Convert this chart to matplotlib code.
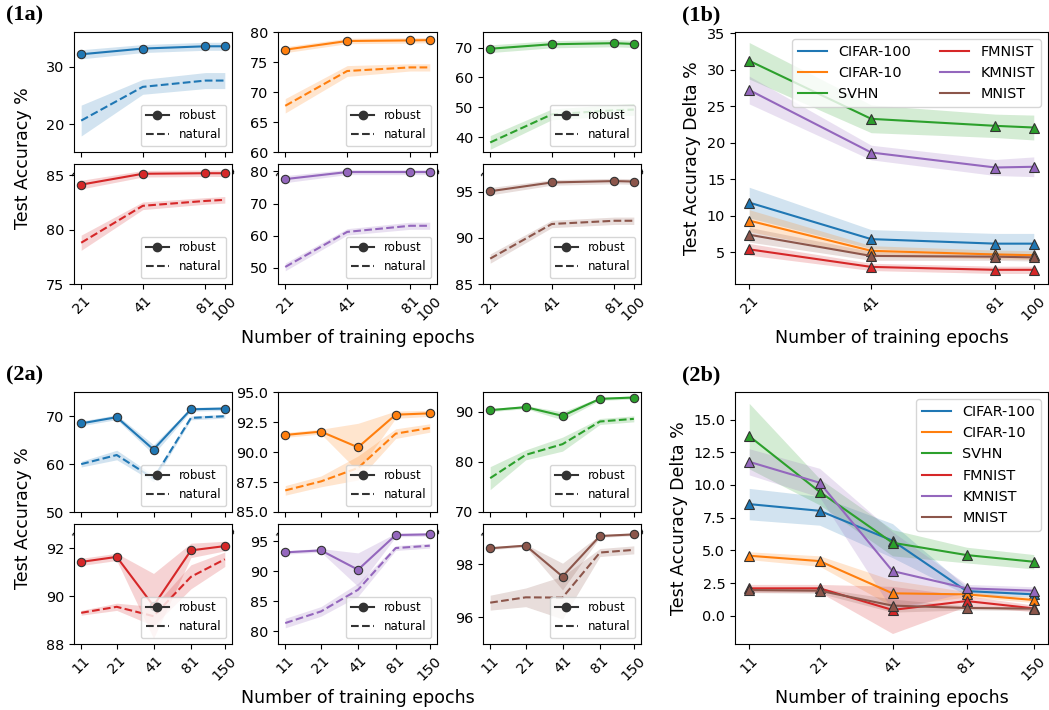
import numpy as np
import matplotlib
matplotlib.use('Agg')
import matplotlib.pyplot as plt
from matplotlib.lines import Line2D

names = ['CIFAR-100', 'CIFAR-10', 'SVHN', 'FMNIST', 'KMNIST', 'MNIST']
colors = ['tab:blue', 'tab:orange', 'tab:green', 'tab:red', 'tab:purple', 'tab:brown']

# ---- experiment 1 ----
epochs1 = [21, 41, 81, 100]
rob1 = [[32.2, 33.2, 33.6, 33.6],
        [77.05, 78.5, 78.6, 78.65],
        [69.6, 71.1, 71.45, 71.2],
        [84.15, 85.15, 85.2, 85.2],
        [77.6, 79.8, 79.8, 79.8],
        [95.05, 96.0, 96.15, 96.1]]
rob1_sd = [[0.8, 0.7, 0.7, 0.7],
           [0.5, 0.45, 0.45, 0.45],
           [1.3, 1.2, 1.2, 1.2],
           [0.4, 0.3, 0.3, 0.3],
           [1.1, 0.8, 0.8, 0.8],
           [0.4, 0.3, 0.3, 0.3]]
nat1 = [[20.6, 26.5, 27.6, 27.6],
        [67.7, 73.5, 74.1, 74.1],
        [38.2, 47.6, 49.0, 49.2],
        [78.8, 82.2, 82.65, 82.75],
        [50.3, 61.2, 63.1, 63.1],
        [87.75, 91.5, 91.85, 91.85]]
nat1_sd = [[2.7, 1.3, 1.4, 1.4],
           [1.2, 0.9, 0.6, 0.6],
           [2.3, 1.8, 1.9, 1.9],
           [0.7, 0.35, 0.3, 0.3],
           [1.2, 1.0, 1.1, 1.1],
           [0.5, 0.4, 0.4, 0.4]]
ylim1 = [(15.1, 36.1), (60, 80), (35, 75.2), (75, 86.05), (45, 82.3), (85, 98)]
yticks1 = [[20, 30], [60, 65, 70, 75, 80], [40, 50, 60, 70], [75, 80, 85],
           [50, 60, 70, 80], [85, 90, 95]]

delta1 = [[11.8, 6.8, 6.18, 6.18],
          [9.33, 5.2, 4.7, 4.6],
          [31.2, 23.26, 22.3, 22.07],
          [5.4, 3.0, 2.6, 2.6],
          [27.2, 18.65, 16.6, 16.7],
          [7.4, 4.5, 4.4, 4.3]]
delta1_sd = [[2.1, 1.3, 1.4, 1.4],
             [1.5, 0.7, 0.6, 0.6],
             [2.5, 1.9, 1.6, 1.7],
             [0.8, 0.5, 0.5, 0.5],
             [1.9, 1.0, 1.1, 1.35],
             [1.0, 0.6, 0.5, 0.5]]

# ---- experiment 2 ----
epochs2 = [11, 21, 41, 81, 150]
rob2 = [[68.5, 69.8, 63.05, 71.45, 71.6],
        [91.42, 91.7, 90.39, 93.11, 93.22],
        [90.27, 90.87, 89.13, 92.53, 92.8],
        [91.42, 91.63, 89.59, 91.9, 92.08],
        [93.17, 93.5, 90.28, 96.06, 96.17],
        [98.59, 98.69, 97.53, 99.05, 99.11]]
rob2_sd = [[0.5, 0.5, 1.0, 0.4, 0.4],
           [0.2, 0.2, 2.0, 0.3, 0.25],
           [0.3, 0.3, 0.8, 0.3, 0.3],
           [0.15, 0.15, 1.35, 0.3, 0.2],
           [0.3, 0.3, 2.8, 0.3, 0.3],
           [0.05, 0.05, 0.5, 0.05, 0.05]]
nat2 = [[60.0, 61.9, 57.0, 69.65, 70.0],
        [86.8, 87.55, 88.67, 91.53, 92.0],
        [76.67, 81.33, 83.47, 88.0, 88.53],
        [89.3, 89.55, 89.16, 90.8, 91.53],
        [81.39, 83.33, 86.94, 93.89, 94.28],
        [96.55, 96.75, 96.74, 98.43, 98.53]]
nat2_sd = [[0.6, 1.0, 0.7, 0.4, 0.4],
           [0.4, 0.45, 1.0, 0.4, 0.35],
           [2.3, 1.0, 1.4, 0.6, 0.6],
           [0.1, 0.15, 0.4, 0.5, 0.3],
           [0.8, 0.8, 1.1, 0.4, 0.4],
           [0.28, 0.35, 0.8, 0.15, 0.15]]
ylim2 = [(50, 75.06), (85, 95), (69.9, 93.9), (88, 93), (77.9, 97.9), (95, 99.5)]
yticks2 = [[50, 60, 70], [85, 87.5, 90, 92.5, 95], [70, 80, 90], [88, 90, 92],
           [80, 85, 90, 95], [96, 98]]

delta2 = [[8.54, 8.03, 5.75, 1.9, 1.65],
          [4.6, 4.19, 1.73, 1.65, 1.22],
          [13.73, 9.48, 5.59, 4.65, 4.14],
          [2.11, 2.11, 0.46, 1.14, 0.58],
          [11.77, 10.17, 3.43, 2.11, 1.93],
          [1.98, 1.93, 0.79, 0.61, 0.56]]
delta2_sd = [[1.2, 1.1, 1.3, 0.3, 0.2],
             [0.3, 0.4, 1.0, 0.2, 0.2],
             [2.5, 1.0, 1.0, 0.6, 0.55],
             [0.3, 0.3, 1.8, 0.4, 0.25],
             [1.0, 1.1, 3.0, 0.3, 0.3],
             [0.2, 0.2, 0.5, 0.15, 0.15]]

W, H = 1049, 710
EDGE = '#333333'
TICK = 10.4
LABEL = 12.5


def px(l, t, r, b):
	return [l / W, 1 - b / H, (r - l) / W, (b - t) / H]


def set_epoch_axis(ax, ep):
	ax.set_xscale('log')
	ax.set_xticks(ep)
	ax.set_xticklabels([str(e) for e in ep], rotation=45)
	ax.minorticks_off()
	ax.tick_params(labelsize=TICK)


def small_grid(fig, top, ep, rob, rob_sd, nat, nat_sd, ylims, yticks):
	cols = [(74, 232), (278, 437), (483, 641)]
	rows = [(top, top + 120), (top + 132, top + 252)]
	axes = []
	for i in range(6):
		r, c = divmod(i, 3)
		ax = fig.add_axes(px(cols[c][0], rows[r][0], cols[c][1], rows[r][1]))
		x = np.array(ep)
		ro, rs = np.array(rob[i]), np.array(rob_sd[i])
		na, ns = np.array(nat[i]), np.array(nat_sd[i])
		ax.fill_between(x, ro - rs, ro + rs, color=colors[i], alpha=0.2, lw=0)
		ax.fill_between(x, na - ns, na + ns, color=colors[i], alpha=0.2, lw=0)
		ax.plot(x, ro, '-o', color=colors[i], ms=6, mec=EDGE, mew=0.8, lw=1.5)
		ax.plot(x, na, '--', color=colors[i], lw=1.5)
		set_epoch_axis(ax, ep)
		ax.set_ylim(*ylims[i])
		ax.set_yticks(yticks[i])
		handles = [Line2D([], [], color=EDGE, marker='o', ms=6, lw=1.5),
		           Line2D([], [], color=EDGE, ls='--', lw=1.5)]
		ax.legend(handles, ['robust', 'natural'], loc='lower right', fontsize=8.5)
		axes.append(ax)
	axes[4].set_xlabel('Number of training epochs', fontsize=LABEL)
	return axes


def delta_plot(fig, top, ep, delta, delta_sd, ylim, yticks, ncol):
	ax = fig.add_axes(px(735, top, 1048, top + 252))
	x = np.array(ep)
	for i in range(6):
		d, s = np.array(delta[i]), np.array(delta_sd[i])
		ax.fill_between(x, d - s, d + s, color=colors[i], alpha=0.2, lw=0)
	for i in range(6):
		ax.plot(x, delta[i], '-', color=colors[i], lw=1.5, label=names[i])
		ax.plot(x, delta[i], '^', color=colors[i], ms=7, mec=EDGE, mew=0.8)
	set_epoch_axis(ax, ep)
	ax.set_ylim(*ylim)
	ax.set_yticks(yticks)
	ax.set_ylabel('Test Accuracy Delta %', fontsize=LABEL)
	ax.set_xlabel('Number of training epochs', fontsize=LABEL)
	ax.legend(loc='upper right', ncol=ncol, fontsize=10.4)
	return ax


fig = plt.figure(figsize=(W / 100, H / 100), dpi=100)

small_grid(fig, 32, epochs1, rob1, rob1_sd, nat1, nat1_sd, ylim1, yticks1)
small_grid(fig, 392, epochs2, rob2, rob2_sd, nat2, nat2_sd, ylim2, yticks2)
delta_plot(fig, 32, epochs1, delta1, delta1_sd, (0.66, 35.14), [5, 10, 15, 20, 25, 30, 35], 2)
delta_plot(fig, 392, epochs2, delta2, delta2_sd, (-2.14, 17.1),
           [0.0, 2.5, 5.0, 7.5, 10.0, 12.5, 15.0], 1)

for yc in [158, 518]:
	fig.text(23 / W, 1 - yc / H, 'Test Accuracy %', rotation=90, fontsize=LABEL,
	         ha='center', va='center')

for lab, xc, yc in [('(1a)', 25, 15), ('(1b)', 701, 15), ('(2a)', 25, 375), ('(2b)', 701, 375)]:
	fig.text(xc / W, 1 - yc / H, lab, fontsize=16, fontweight='bold',
	         family='Liberation Serif', ha='center', va='center')

fig.savefig('out.png', dpi=100)
